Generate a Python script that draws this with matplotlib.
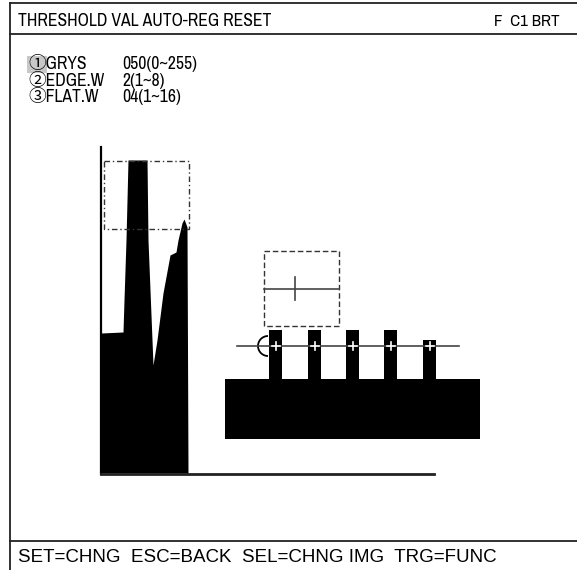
import matplotlib.pyplot as plt
from matplotlib import font_manager as fm
from matplotlib.patches import Rectangle, Arc

# screen texts
header_left = "THRESHOLD VAL AUTO-REG RESET"
header_right = "F  C1 BRT"
footer = "SET=CHNG  ESC=BACK  SEL=CHNG IMG  TRG=FUNC"
item_marks = ["\u2460", "\u2461", "\u2462"]
item_names = ["GRYS", "EDGE.W", "FLAT.W"]
item_values = ["050(0~255)", "2(1~8)", "04(1~16)"]

# histogram profile (screen px)
hist_x = [101, 123, 124, 126, 128, 147, 148, 153, 157, 163, 170, 176, 178, 182, 184, 187, 188]
hist_top = [333, 332, 300, 240, 160, 160, 240, 365, 340, 293, 255, 252, 240, 223, 219, 227, 473]

# edge sample bars
bar_left = [269, 308, 346, 384, 423]
bar_top = [330, 330, 330, 330, 340]

installed = {f.name for f in fm.fontManager.ttflist}
narrow = [n for n in ["Liberation Sans Narrow", "Arimo Narrow", "Archivo Narrow",
                      "PT Sans Narrow", "Roboto Condensed", "Sofia Sans Condensed"]
          if n in installed]
NARROW = narrow[:1] + ["Liberation Sans", "Noto Sans CJK JP", "DejaVu Sans"]
REG = ["Liberation Sans", "DejaVu Sans"]

fig = plt.figure(figsize=(5.77, 5.70), dpi=100)
ax = fig.add_axes([0, 0, 1, 1])
ax.set_xlim(0, 577)
ax.set_ylim(570, 0)
ax.axis("off")

frame_c = "#222222"
ax.plot([10, 10], [3, 570], color=frame_c, lw=1.3)
for y in (3, 34, 541):
    ax.plot([10, 577], [y, y], color=frame_c, lw=1.3)

ax.text(18, 21, header_left, family=NARROW, fontsize=12.7, va="center")
ax.text(494, 21, header_right, family=NARROW, fontsize=12.2, va="center")

for i, (m, n, v) in enumerate(zip(item_marks, item_names, item_values)):
    y = 64.5 + i * 16.3
    if i == 0:
        ax.add_patch(Rectangle((27, 56), 20, 17, color="#c8c8c8", lw=0))
    ax.text(28, y, m + n, family=NARROW, fontsize=12.7, va="center")
    ax.text(122, y, v, family=NARROW, fontsize=12.7, va="center")

ax.text(18, 558, footer, family=REG, fontsize=13.5, va="center")

# histogram
ax.fill_between(hist_x, hist_top, 473, color="black", lw=0)
ax.plot([101, 101], [147, 474], color="black", lw=1.6)
ax.plot([101, 434], [474, 474], color="#222222", lw=2)
ax.add_patch(Rectangle((104, 161), 85, 68, fill=False, ls=(0, (4, 2, 1, 2)),
                       lw=1, ec="#333333"))

# edge image
ax.add_patch(Rectangle((225, 379), 255, 60, color="black", lw=0))
for bx, bt in zip(bar_left, bar_top):
    ax.add_patch(Rectangle((bx, bt), 13, 379 - bt, color="black", lw=0))
ax.plot([237, 459], [346, 346], color="#444444", lw=1.2)
for bx in bar_left:
    cx = bx + 6.5
    ax.plot([cx - 4, cx + 4], [346, 346], color="white", lw=1.2)
    ax.plot([cx, cx], [342, 350], color="white", lw=1.2)
ax.add_patch(Arc((268, 346), 20, 20, theta1=90, theta2=270, color="black", lw=1.3))

ax.add_patch(Rectangle((264, 251), 75, 75, fill=False, ls=(0, (4, 2)),
                       lw=1, ec="#333333"))
ax.plot([264, 339], [289, 289], color="#444444", lw=1.2)
ax.plot([295, 295], [277, 300], color="#444444", lw=1.2)

fig.savefig("out.png", dpi=100)
